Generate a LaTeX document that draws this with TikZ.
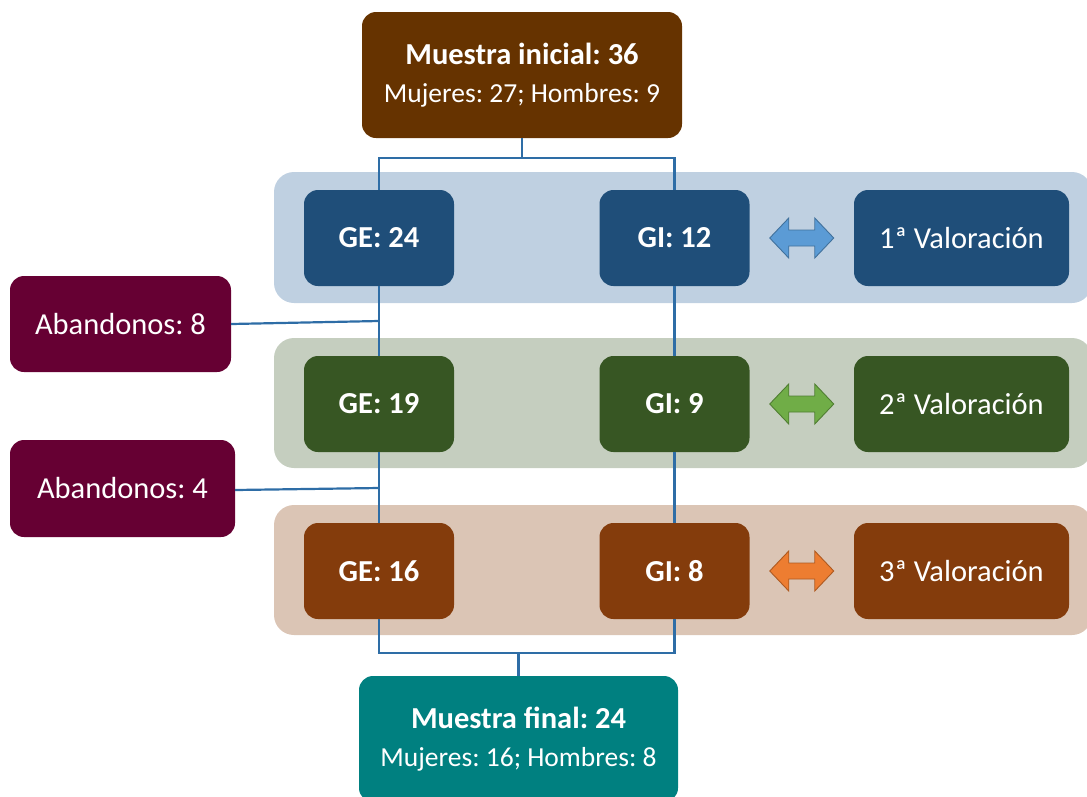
\documentclass[tikz,border=0pt]{standalone}
\usepackage{fontspec}
\setmainfont{Carlito}
\usetikzlibrary{calc}
\frenchspacing
\definecolor{topc}{HTML}{663300}
\definecolor{rowA}{HTML}{1F4E79}
\definecolor{rowB}{HTML}{375623}
\definecolor{rowC}{HTML}{843C0C}
\definecolor{bandA}{HTML}{BFD0E1}
\definecolor{bandB}{HTML}{C5CEBF}
\definecolor{bandC}{HTML}{DBC5B5}
\definecolor{abc}{HTML}{660033}
\definecolor{finc}{HTML}{008080}
\definecolor{linec}{HTML}{2E6DA6}
\definecolor{arAf}{HTML}{5B9BD5}
\definecolor{arAd}{HTML}{41719C}
\definecolor{arBf}{HTML}{70AD47}
\definecolor{arBd}{HTML}{507E32}
\definecolor{arCf}{HTML}{ED7D31}
\definecolor{arCd}{HTML}{AE5A21}
\newcommand\vadbl[3]{%
  \begin{scope}[shift={#1}]
    \filldraw[fill=#2, draw=#3, line width=0.9pt, line join=miter]
      (-32,0) -- (-13,-20) -- (-13,-8) -- (13,-8) -- (13,-20) -- (32,0)
      -- (13,20) -- (13,8) -- (-13,8) -- (-13,20) -- cycle;
  \end{scope}}
\begin{document}
\frenchspacing
\begin{tikzpicture}[x=1pt,y=-1pt,
  box/.style={rectangle, rounded corners=14pt, text=white, inner sep=0pt,
    align=center, font=\fontsize{30.5}{36}\selectfont},
  grp/.style={box, minimum width=150, minimum height=96},
  val/.style={box, minimum width=215, minimum height=96},
  band/.style={rounded corners=20pt},
  conn/.style={draw=linec, line width=2.2pt}]
\useasboundingbox (0,0) rectangle (1087,796);
% bands
\fill[band, bandA] (274,172) rectangle (1092,303);
\fill[band, bandB] (274,338) rectangle (1092,468);
\fill[band, bandC] (274,505) rectangle (1092,635);
% top box
\node[box, fill=topc, minimum width=320, minimum height=126] (top) at (522,75)
  {\textbf{Muestra inicial: 36}\\[2pt]{\fontsize{27.5}{33}\selectfont Mujeres: 27; Hombres: 9}};
% row 1
\node[grp, fill=rowA] (ge1) at (379,238) {\bfseries GE: 24};
\node[grp, fill=rowA] (gi1) at (674.5,238) {\bfseries GI: 12};
\node[val, fill=rowA] (v1) at (961.5,238) {1ª Valoración};
% row 2
\node[grp, fill=rowB] (ge2) at (379,404) {\bfseries GE: 19};
\node[grp, fill=rowB] (gi2) at (674.5,404) {\bfseries GI: 9};
\node[val, fill=rowB] (v2) at (961.5,404) {2ª Valoración};
% row 3
\node[grp, fill=rowC] (ge3) at (379,571) {\bfseries GE: 16};
\node[grp, fill=rowC] (gi3) at (674.5,571) {\bfseries GI: 8};
\node[val, fill=rowC] (v3) at (961.5,571) {3ª Valoración};
% dropouts
\node[box, fill=abc, minimum width=221, minimum height=96] (ab1) at (120.5,324) {Abandonos: 8};
\node[box, fill=abc, minimum width=225, minimum height=97] (ab2) at (122.5,488.5) {Abandonos: 4};
% final box
\node[box, fill=finc, minimum width=319, minimum height=126] (fin) at (518.5,739)
  {\textbf{Muestra final: 24}\\[2pt]{\fontsize{27.5}{33}\selectfont Mujeres: 16; Hombres: 8}};
% connectors
\coordinate (h1) at (522,158);
\draw[conn] (top.south) -- (h1) -| (ge1.north);
\draw[conn] (h1) -| (gi1.north);
\draw[conn] (ge1.south) -- (ge2.north);
\draw[conn] (gi1.south) -- (gi2.north);
\draw[conn] (ge2.south) -- (ge3.north);
\draw[conn] (gi2.south) -- (gi3.north);
\coordinate (j1) at (379,321);
\coordinate (j2) at (379,488);
\draw[conn] (ab1.east) -- (j1);
\draw[conn] (ab2.east |- 0,490) -- (j2);
\coordinate (h2) at (518.5,653);
\draw[conn] (fin.north) -- (h2) -| (ge3.south);
\draw[conn] (h2) -| (gi3.south);
% double arrows
\vadbl{($(gi1.east)!0.5!(v1.west)$)}{arAf}{arAd}
\vadbl{($(gi2.east)!0.5!(v2.west)$)}{arBf}{arBd}
\vadbl{($(gi3.east)!0.5!(v3.west)$)}{arCf}{arCd}
\end{tikzpicture}
\end{document}
